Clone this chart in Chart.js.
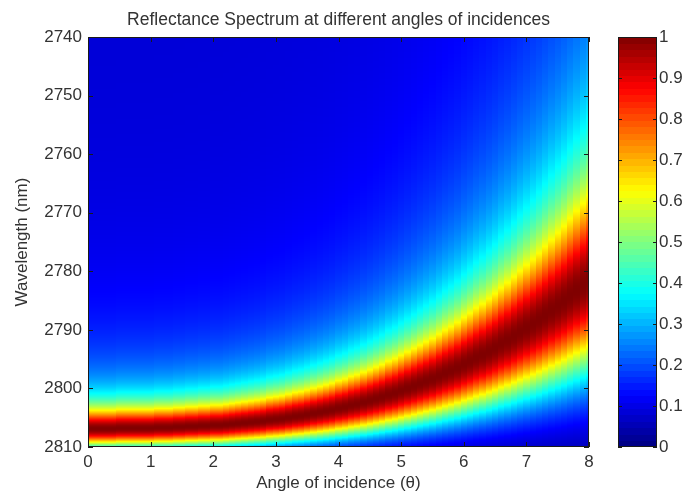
<!DOCTYPE html>
<html>
<head>
<meta charset="utf-8">
<script src="https://cdn.jsdelivr.net/npm/chart.js@4.4.0/dist/chart.umd.min.js"></script>
<style>
  html, body { margin: 0; padding: 0; background: #fff; }
  #wrap { width: 688px; height: 496px; }
</style>
</head>
<body>
<div id="wrap"><canvas id="chartReflectance" width="688" height="496"></canvas></div>
<script>
// Angle d'incidence : une colonne tous les 0.1°
const angleStep = 0.1;

// Longueur d'onde du pic de réflectance (nm) pour chaque colonne, de 0° à 8°
const peakWavelength = [
  2806.9, 2806.9, 2806.9, 2806.9, 2806.9, 2806.8, 2806.8, 2806.8, 2806.8, 2806.8,
  2806.8, 2806.7, 2806.7, 2806.7, 2806.6, 2806.6, 2806.5, 2806.5, 2806.4, 2806.4,
  2806.3, 2806.3, 2806.2, 2806.1, 2806.0, 2805.9, 2805.8, 2805.7, 2805.6, 2805.4,
  2805.3, 2805.2, 2805.0, 2804.8, 2804.7, 2804.5, 2804.3, 2804.1, 2803.9, 2803.7,
  2803.4, 2803.2, 2802.9, 2802.7, 2802.4, 2802.1, 2801.8, 2801.5, 2801.1, 2800.8,
  2800.4, 2800.0, 2799.6, 2799.2, 2798.8, 2798.4, 2797.9, 2797.4, 2797.0, 2796.5,
  2795.9, 2795.4, 2794.8, 2794.3, 2793.7, 2793.1, 2792.4, 2791.8, 2791.1, 2790.4,
  2789.7, 2789.0, 2788.3, 2787.5, 2786.7, 2785.9, 2785.1, 2784.2, 2783.3, 2782.4,
  2781.5
];
const angles = peakWavelength.map((_, i) => +(i * angleStep).toFixed(1));

// Graduations des axes
const xTicks = [0, 1, 2, 3, 4, 5, 6, 7, 8];
const yTicks = [2740, 2750, 2760, 2770, 2780, 2790, 2800, 2810];
const colorTicks = [0, 0.1, 0.2, 0.3, 0.4, 0.5, 0.6, 0.7, 0.8, 0.9, 1];
const colorTickLabels = ['0', '0.1', '0.2', '0.3', '0.4', '0.5', '0.6', '0.7', '0.8', '0.9', '1'];

// Profil de la résonance : lorentzien côté courtes longueurs d'onde,
// gaussien côté grandes longueurs d'onde, la largeur croît avec le décalage du pic
const lineShape = {
  baseShort: 0.08, baseLong: 0.02,
  widthShort: 3.4, growthShort: 0.47,
  tailWeight: 0.15, tailFactor: 3.5,
  widthLong: 2.3, growthLong: 0.36
};

const FONT = 'Liberation Sans, Arial, Helvetica, sans-serif';
const TEXT_COLOR = '#333';

function reflectance(i, wl) {
  const S = lineShape;
  const peak = peakWavelength[i];
  const shift = peakWavelength[0] - peak;
  const d = wl - peak;
  if (d < 0) {
    const g = S.widthShort + S.growthShort * shift;
    const x1 = d / g, x2 = d / (g * S.tailFactor);
    const shape = (1 - S.tailWeight) / (1 + x1 * x1) + S.tailWeight / (1 + x2 * x2);
    return S.baseShort + (1 - S.baseShort) * shape;
  }
  const s = S.widthLong + S.growthLong * shift;
  const shape = Math.exp(-d * d / (2 * s * s));
  return S.baseLong + (1 - S.baseLong) * shape;
}

// Palette "jet"
function jet(v) {
  const c = t => Math.round(255 * Math.min(1, Math.max(0, t)));
  const r = c(1.5 - Math.abs(4 * v - 3));
  const g = c(1.5 - Math.abs(4 * v - 2));
  const b = c(1.5 - Math.abs(4 * v - 1));
  return `rgb(${r},${g},${b})`;
}

// === Carte de réflectance, colonne par colonne ===
const heatmapPlugin = {
  id: 'heatmap',
  beforeDatasetsDraw(chart) {
    const { ctx, chartArea: a, scales: { x, y } } = chart;
    ctx.save();
    angles.forEach((ang, i) => {
      const x0 = Math.round(x.getPixelForValue(Math.max(x.min, ang - angleStep / 2)));
      const x1 = Math.round(x.getPixelForValue(Math.min(x.max, ang + angleStep / 2)));
      for (let py = Math.floor(a.top); py < Math.ceil(a.bottom); py++) {
        const wl = y.getValueForPixel(py + 0.5);
        ctx.fillStyle = jet(reflectance(i, wl));
        ctx.fillRect(x0, py, x1 - x0, 1);
      }
    });
    ctx.restore();
  },
  afterDatasetsDraw(chart) {
    const { ctx, chartArea: a, scales: { x, y, cb } } = chart;
    ctx.save();
    ctx.strokeStyle = '#1a1a1a';
    ctx.lineWidth = 1;
    ctx.beginPath();
    // graduations intérieures, façon MATLAB
    xTicks.forEach(v => {
      const px = Math.round(x.getPixelForValue(v)) + 0.5;
      ctx.moveTo(px, a.bottom); ctx.lineTo(px, a.bottom - 5);
      ctx.moveTo(px, a.top); ctx.lineTo(px, a.top + 5);
    });
    yTicks.forEach(v => {
      const py = Math.round(y.getPixelForValue(v)) + 0.5;
      ctx.moveTo(a.left, py); ctx.lineTo(a.left + 5, py);
      ctx.moveTo(a.right, py); ctx.lineTo(a.right - 5, py);
    });
    ctx.stroke();
    ctx.strokeRect(Math.round(a.left) + 0.5, Math.round(a.top) + 0.5,
      Math.round(a.right - a.left) - 1, Math.round(a.bottom - a.top) - 1);

    // barre de couleurs
    const left = Math.round(cb.left + 29), right = Math.round(cb.left + 68);
    const n = 64;
    for (let k = 0; k < n; k++) {
      const yTop = Math.floor(cb.getPixelForValue((k + 1) / n));
      const yBot = Math.ceil(cb.getPixelForValue(k / n));
      ctx.fillStyle = jet((k + 0.5) / n);
      ctx.fillRect(left, yTop, right - left, yBot - yTop);
    }
    ctx.beginPath();
    colorTicks.forEach(v => {
      const py = Math.round(cb.getPixelForValue(v)) + 0.5;
      ctx.moveTo(left, py); ctx.lineTo(left + 4, py);
      ctx.moveTo(right, py); ctx.lineTo(right - 4, py);
    });
    ctx.stroke();
    const top = Math.round(cb.getPixelForValue(1)), bot = Math.round(cb.getPixelForValue(0));
    ctx.strokeRect(left + 0.5, top + 0.5, right - left - 1, bot - top - 1);
    ctx.restore();
  }
};

const tickFont = { family: FONT, size: 17 };

// Tailles fixes des axes pour caler la zone de tracé
function fixVertical(width) {
  return s => { s.width = width; s.paddingTop = 0; s.paddingBottom = 0; };
}

new Chart(document.getElementById('chartReflectance'), {
  type: 'scatter',
  data: { datasets: [{ data: [] }] },
  plugins: [heatmapPlugin],
  options: {
    responsive: false,
    devicePixelRatio: 1,
    animation: false,
    layout: { padding: 0, autoPadding: false },
    plugins: {
      legend: { display: false },
      tooltip: { enabled: false },
      title: {
        display: true,
        text: 'Reflectance Spectrum at different angles of incidences',
        font: { family: FONT, size: 17.5, weight: 'normal' },
        color: TEXT_COLOR,
        padding: { top: 10, bottom: 6 },
        fullSize: false
      }
    },
    scales: {
      x: {
        type: 'linear', min: 0, max: 8,
        afterBuildTicks: s => { s.ticks = xTicks.map(v => ({ value: v })); },
        ticks: { font: tickFont, color: TEXT_COLOR, padding: 5, maxRotation: 0, autoSkip: false,
                 callback: v => String(v) },
        grid: { display: false, drawTicks: false },
        border: { display: false },
        title: { display: true, text: 'Angle of incidence (θ)', font: tickFont, color: TEXT_COLOR,
                 padding: { top: 0, bottom: 2 } },
        afterFit: s => { s.height = 49; s.paddingLeft = 0; s.paddingRight = 0; }
      },
      y: {
        type: 'linear', reverse: true, min: 2740, max: 2810,
        afterBuildTicks: s => { s.ticks = yTicks.map(v => ({ value: v })); },
        ticks: { font: tickFont, color: TEXT_COLOR, padding: 6, autoSkip: false,
                 callback: v => String(v) },
        grid: { display: false, drawTicks: false },
        border: { display: false },
        title: { display: true, text: 'Wavelength (nm)', font: tickFont, color: TEXT_COLOR,
                 padding: { top: 12, bottom: 0 } },
        afterFit: fixVertical(88)
      },
      cb: {
        type: 'linear', position: 'right', min: 0, max: 1,
        afterBuildTicks: s => { s.ticks = colorTicks.map(v => ({ value: v })); },
        ticks: { font: tickFont, color: TEXT_COLOR, padding: 70, autoSkip: false,
                 callback: v => colorTickLabels[colorTicks.indexOf(v)] },
        grid: { display: false, drawTicks: false },
        border: { display: false },
        afterFit: fixVertical(99)
      }
    }
  }
});
</script>
</body>
</html>
